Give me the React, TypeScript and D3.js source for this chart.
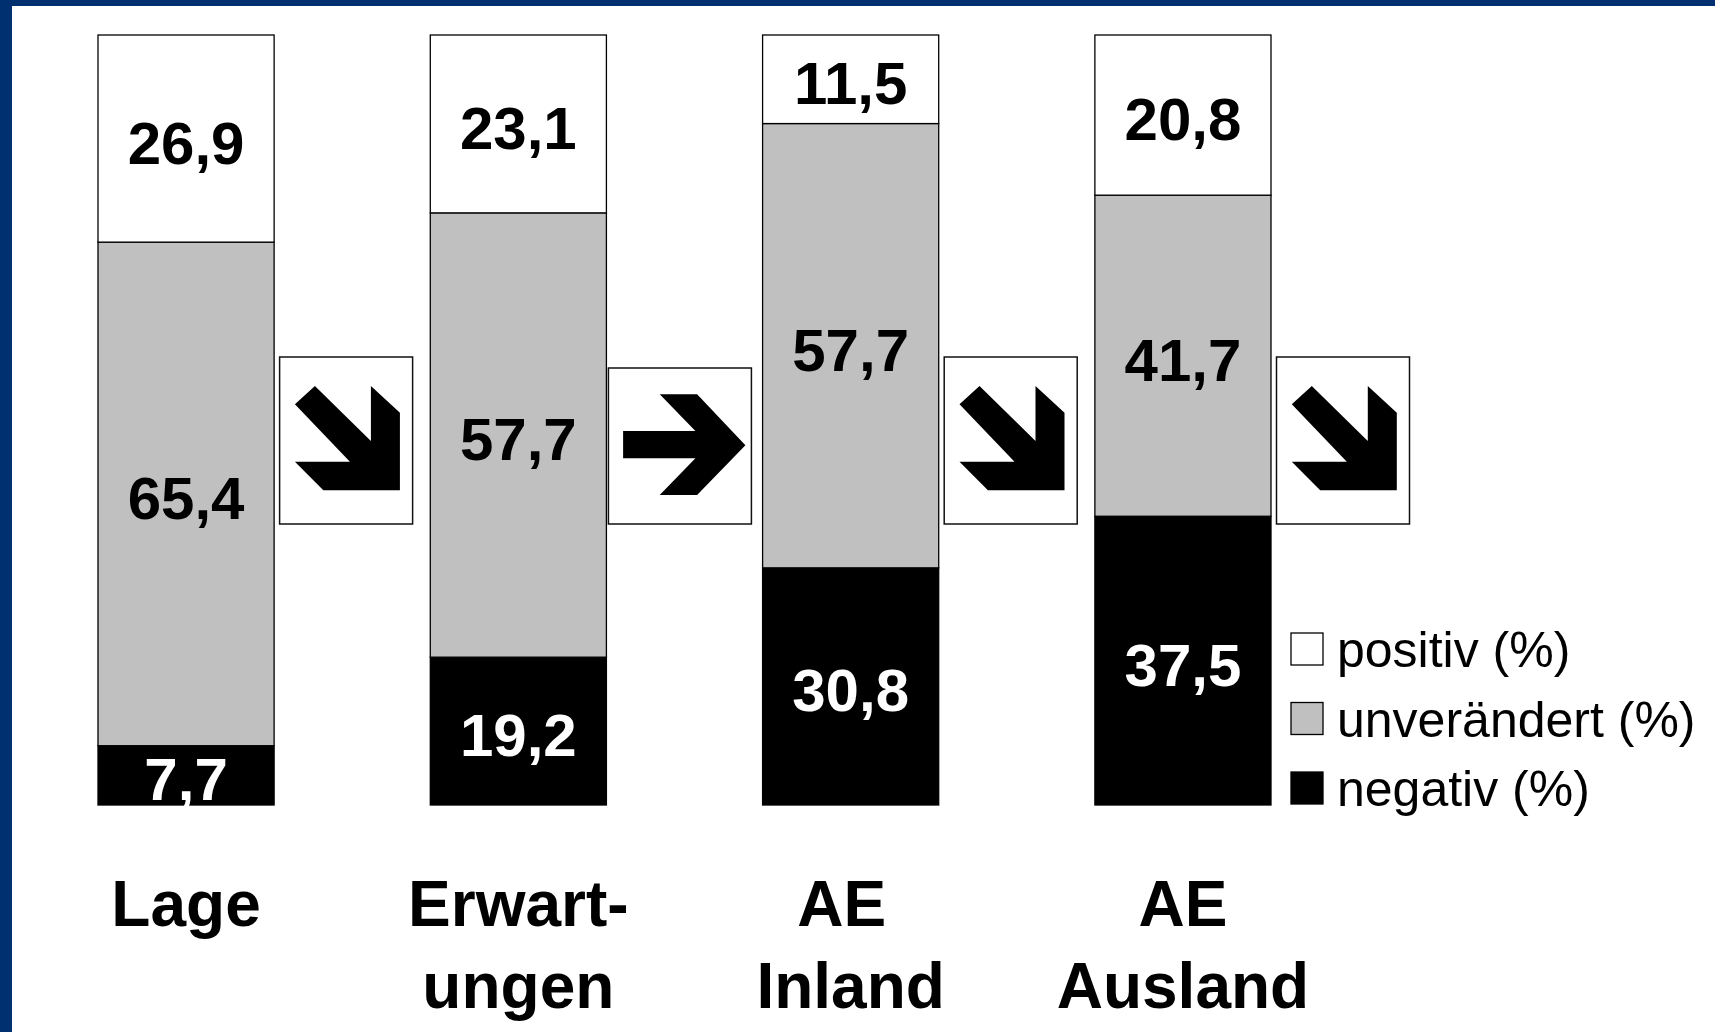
import React from "react";
import * as d3 from "d3";

const categories = ["Lage", "Erwartungen", "AE Inland", "AE Ausland"];
const categoryLines = [["Lage"], ["Erwart-", "ungen"], ["AE ", "Inland"], ["AE", "Ausland"]];
const positiv = [26.9, 23.1, 11.5, 20.8];
const unveraendert = [65.4, 57.7, 57.7, 41.7];
const negativ = [7.7, 19.2, 30.8, 37.5];
const trendArrows = ["down", "right", "down", "down"];
const seriesKeys = ["negativ", "unveraendert", "positiv"];
const legendItems = [
  { key: "positiv", label: "positiv (%)" },
  { key: "unveraendert", label: "unverändert (%)" },
  { key: "negativ", label: "negativ (%)" },
];

const W = 1715;
const H = 1032;
const FONT = "'Liberation Sans', Arial, Helvetica, sans-serif";
const BLUE = "#00306F";
const fills: Record<string, string> = { positiv: "#FFFFFF", unveraendert: "#C0C0C0", negativ: "#000000" };
const labelColors: Record<string, string> = { positiv: "#000", unveraendert: "#000", negativ: "#fff" };

const fmt = (v: number) => d3.format(".1f")(v).replace(".", ",");

// arrow shapes relative to their box
const diagArrow: [number, number][] = [
  [35.3, 29], [91.3, 84], [91.3, 29], [120.3, 55.7], [120.3, 133.3],
  [43.7, 133.3], [15.3, 104.7], [70.3, 104.7], [15.3, 47.3],
];
const rightArrow: [number, number][] = [
  [14.7, 63], [87, 63], [51.3, 26.3], [88.7, 26.3], [137, 77.3],
  [88.7, 127], [51.3, 127], [87, 90.3], [14.7, 90.3],
];

export default function App() {
  const rows = categories.map((c, i) => ({
    cat: c,
    positiv: positiv[i],
    unveraendert: unveraendert[i],
    negativ: negativ[i],
  }));
  const stacked = d3.stack<any>().keys(seriesKeys)(rows);

  const x = d3.scaleBand<string>().domain(categories).range([98, 1271]).paddingInner(0.47).paddingOuter(0);
  const y = d3.scaleLinear().domain([0, 100]).range([805, 35]);
  const bw = x.bandwidth();
  const line = d3.line();

  return (
    <svg
      width={W}
      height={H}
      viewBox={`0 0 ${W} ${H}`}
      style={{ position: "fixed", left: 0, top: 0, background: "#fff" }}
      fontFamily={FONT}
    >
      <rect x={0} y={0} width={W} height={H} fill="#fff" />
      <rect x={0} y={0} width={W} height={6} fill={BLUE} />
      <rect x={0} y={0} width={12} height={H} fill={BLUE} />

      {stacked.map((s) => (
        <g key={s.key}>
          {s.map((d, i) => {
            const cat = categories[i];
            const x0 = x(cat)!;
            const yTop = y(d[1]);
            const yBot = y(d[0]);
            const mid = (yTop + yBot) / 2;
            return (
              <g key={cat}>
                <rect
                  x={x0}
                  y={yTop}
                  width={bw}
                  height={yBot - yTop}
                  fill={fills[s.key]}
                  stroke="#000"
                  strokeWidth={1.3}
                />
                <text
                  x={x0 + bw / 2}
                  y={mid + 25}
                  textAnchor="middle"
                  fontSize={60}
                  fontWeight="bold"
                  fill={labelColors[s.key]}
                >
                  {fmt(d[1] - d[0])}
                </text>
              </g>
            );
          })}
        </g>
      ))}

      {trendArrows.map((dir, i) => {
        const isRight = dir === "right";
        const bx = x(categories[i])! + bw + (isRight ? 2 : 5.5);
        const bwid = isRight ? 143 : 133;
        const bh = isRight ? 156 : 167;
        const by = 524 - bh;
        const pts = (isRight ? rightArrow : diagArrow).map(([px, py]) => [bx + px, by + py] as [number, number]);
        return (
          <g key={i}>
            <rect x={bx} y={by} width={bwid} height={bh} fill="#fff" stroke="#111" strokeWidth={1.5} />
            <path d={line(pts)! + "Z"} fill="#000" />
          </g>
        );
      })}

      {categoryLines.map((lines, i) => (
        <text
          key={i}
          textAnchor="middle"
          fontSize={64}
          fontWeight="bold"
          fill="#000"
          style={{ whiteSpace: "pre" }}
        >
          {lines.map((l, j) => (
            <tspan key={j} x={x(categories[i])! + bw / 2} y={926 + j * 82}>
              {l}
            </tspan>
          ))}
        </text>
      ))}

      {legendItems.map((it, i) => {
        const cy = 649 + i * 69.5;
        return (
          <g key={it.key}>
            <rect x={1291} y={cy - 16} width={32} height={32} fill={fills[it.key]} stroke="#000" strokeWidth={1.3} />
            <text x={1337} y={cy + 18} fontSize={50} fill="#000">
              {it.label}
            </text>
          </g>
        );
      })}
    </svg>
  );
}
